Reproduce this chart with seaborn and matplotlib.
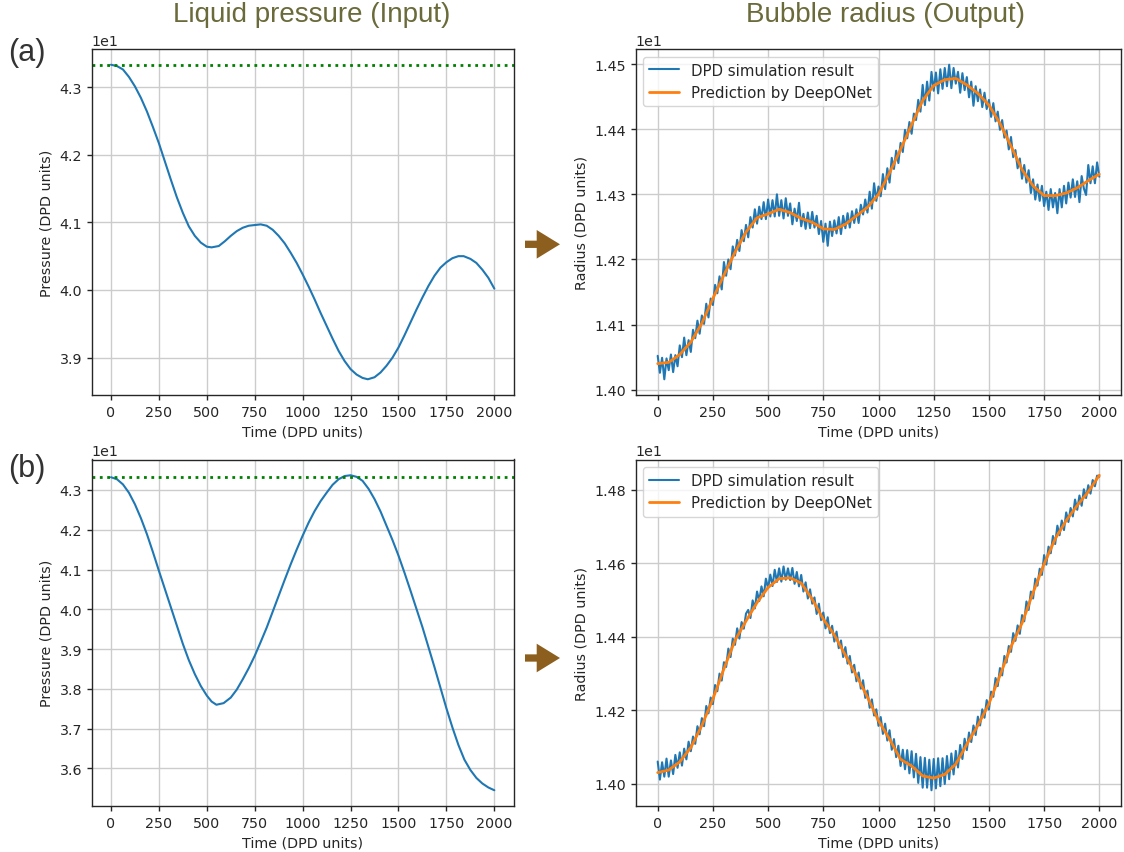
import matplotlib
matplotlib.use("Agg")
import matplotlib.pyplot as plt
from matplotlib.patches import FancyArrow
import seaborn as sns

# ---------------- data ----------------
# (a) liquid pressure input
t_press_a = [0, 31.25, 62.5, 93.75, 125, 156.25, 187.5, 218.75, 250, 281.25, 312.5, 343.75, 375,
             406.25, 437.5, 468.75, 500, 525, 562.5, 593.75, 625, 656.25, 687.5, 718.75, 750, 781,
             812.5, 843.75, 875, 906.25, 937.5, 968.75, 1000, 1031.25, 1062.5, 1093.75, 1125,
             1156.25, 1187.5, 1218.75, 1250, 1281.25, 1312.5, 1340, 1375, 1406.25, 1437.5,
             1468.75, 1500, 1531.25, 1562.5, 1593.75, 1625, 1656.25, 1687.5, 1718.75, 1750,
             1781.25, 1812.5, 1840, 1875, 1906.25, 1937.5, 1968.75, 2000]
press_a = [43.33, 43.31, 43.26, 43.15, 43.01, 42.84, 42.64, 42.41, 42.17, 41.90, 41.63, 41.37, 41.14,
           40.94, 40.80, 40.70, 40.64, 40.63, 40.65, 40.72, 40.80, 40.87, 40.92, 40.95, 40.96, 40.97,
           40.95, 40.89, 40.80, 40.69, 40.55, 40.40, 40.23, 40.05, 39.86, 39.66, 39.47, 39.28,
           39.10, 38.95, 38.83, 38.75, 38.70, 38.68, 38.71, 38.78, 38.88, 39.00, 39.15, 39.33,
           39.52, 39.71, 39.89, 40.06, 40.21, 40.33, 40.41, 40.47, 40.50, 40.50, 40.46, 40.40,
           40.30, 40.18, 40.02]

# (b) liquid pressure input
t_press_b = [0, 31.25, 62.5, 93.75, 125, 156.25, 187.5, 218.75, 250, 281.25, 312.5, 343.75, 375,
             406.25, 437.5, 468.75, 500, 525, 550, 587.5, 625, 656.25, 687.5, 718.75, 750, 781.25,
             812.5, 843.75, 875, 906.25, 937.5, 968.75, 1000, 1031.25, 1062.5, 1093.75, 1125,
             1156.25, 1187.5, 1218.75, 1250, 1281.25, 1312.5, 1343.75, 1375, 1406.25, 1437.5,
             1468.75, 1500, 1531.25, 1562.5, 1593.75, 1625, 1656.25, 1687.5, 1718.75, 1750,
             1781.25, 1812.5, 1843.75, 1875, 1906.25, 1937.5, 1968.75, 2000]
press_b = [43.32, 43.27, 43.14, 42.93, 42.64, 42.29, 41.89, 41.44, 40.97, 40.51, 40.05, 39.59, 39.13,
           38.72, 38.37, 38.07, 37.83, 37.68, 37.60, 37.64, 37.78, 37.98, 38.24, 38.52, 38.83, 39.18,
           39.54, 39.94, 40.34, 40.74, 41.13, 41.50, 41.85, 42.18, 42.47, 42.72, 42.93, 43.13,
           43.27, 43.35, 43.37, 43.33, 43.23, 43.03, 42.77, 42.46, 42.10, 41.74, 41.35, 40.92,
           40.47, 40.01, 39.55, 39.05, 38.55, 38.03, 37.51, 37.03, 36.59, 36.22, 35.96, 35.76,
           35.62, 35.52, 35.45]

# DPD simulation time grid (every 10 DPD time units)
t_dpd = list(range(0, 2001, 10))

radius_dpd_a = [
    14.052, 14.026, 14.049, 14.016, 14.048, 14.030, 14.054, 14.027, 14.053, 14.036,
    14.068, 14.050, 14.080, 14.053, 14.076, 14.058, 14.092, 14.079, 14.106, 14.086,
    14.114, 14.101, 14.132, 14.111, 14.140, 14.130, 14.161, 14.148, 14.174, 14.154,
    14.196, 14.175, 14.200, 14.185, 14.220, 14.206, 14.230, 14.213, 14.245, 14.228,
    14.253, 14.234, 14.265, 14.249, 14.277, 14.255, 14.281, 14.262, 14.288, 14.262,
    14.292, 14.266, 14.291, 14.266, 14.300, 14.267, 14.291, 14.263, 14.294, 14.267,
    14.286, 14.254, 14.278, 14.259, 14.287, 14.251, 14.270, 14.247, 14.272, 14.248,
    14.273, 14.249, 14.267, 14.239, 14.259, 14.227, 14.255, 14.221, 14.258, 14.236,
    14.260, 14.240, 14.265, 14.239, 14.267, 14.248, 14.271, 14.249, 14.274, 14.256,
    14.277, 14.256, 14.284, 14.269, 14.292, 14.272, 14.304, 14.278, 14.317, 14.290,
    14.312, 14.297, 14.331, 14.308, 14.340, 14.318, 14.356, 14.339, 14.367, 14.348,
    14.379, 14.365, 14.399, 14.386, 14.411, 14.393, 14.424, 14.414, 14.445, 14.427,
    14.468, 14.437, 14.473, 14.444, 14.488, 14.459, 14.487, 14.455, 14.492, 14.462,
    14.494, 14.466, 14.499, 14.463, 14.494, 14.470, 14.488, 14.456, 14.486, 14.460,
    14.480, 14.449, 14.473, 14.436, 14.466, 14.443, 14.461, 14.434, 14.456, 14.431,
    14.445, 14.419, 14.440, 14.412, 14.427, 14.399, 14.414, 14.387, 14.398, 14.369,
    14.388, 14.357, 14.368, 14.340, 14.355, 14.324, 14.345, 14.318, 14.337, 14.302,
    14.323, 14.292, 14.315, 14.290, 14.313, 14.282, 14.304, 14.276, 14.308, 14.280,
    14.302, 14.271, 14.308, 14.280, 14.313, 14.286, 14.318, 14.295, 14.323, 14.296,
    14.320, 14.288, 14.328, 14.309, 14.299, 14.345, 14.317, 14.343, 14.317, 14.349,
    14.327]

radius_dpd_b = [
    14.061, 14.012, 14.059, 14.020, 14.069, 14.020, 14.064, 14.027, 14.079, 14.044,
    14.086, 14.050, 14.096, 14.067, 14.115, 14.089, 14.129, 14.109, 14.157, 14.135,
    14.179, 14.157, 14.212, 14.192, 14.235, 14.217, 14.269, 14.252, 14.300, 14.281,
    14.331, 14.318, 14.368, 14.345, 14.395, 14.378, 14.423, 14.395, 14.440, 14.422,
    14.463, 14.473, 14.451, 14.499, 14.477, 14.523, 14.497, 14.537, 14.510, 14.558,
    14.532, 14.569, 14.538, 14.582, 14.549, 14.586, 14.550, 14.591, 14.555, 14.586,
    14.554, 14.587, 14.544, 14.576, 14.537, 14.568, 14.523, 14.548, 14.504, 14.529,
    14.490, 14.507, 14.462, 14.490, 14.445, 14.466, 14.423, 14.453, 14.410, 14.430,
    14.387, 14.414, 14.369, 14.390, 14.345, 14.372, 14.327, 14.348, 14.303, 14.324,
    14.279, 14.303, 14.259, 14.282, 14.234, 14.254, 14.207, 14.230, 14.186, 14.203,
    14.158, 14.182, 14.136, 14.164, 14.118, 14.146, 14.093, 14.122, 14.073, 14.104,
    14.049, 14.093, 14.040, 14.092, 14.029, 14.089, 14.018, 14.082, 14.003, 14.073,
    13.990, 14.071, 13.990, 14.066, 13.983, 14.068, 13.988, 14.070, 13.994, 14.070,
    14.000, 14.076, 14.013, 14.083, 14.026, 14.090, 14.045, 14.106, 14.068, 14.123,
    14.092, 14.140, 14.114, 14.159, 14.133, 14.183, 14.159, 14.203, 14.180, 14.228,
    14.202, 14.251, 14.237, 14.288, 14.266, 14.315, 14.295, 14.348, 14.330, 14.375,
    14.359, 14.410, 14.389, 14.431, 14.408, 14.459, 14.442, 14.496, 14.473, 14.523,
    14.504, 14.558, 14.539, 14.585, 14.568, 14.622, 14.596, 14.645, 14.627, 14.674,
    14.652, 14.702, 14.676, 14.716, 14.690, 14.738, 14.712, 14.750, 14.727, 14.773,
    14.745, 14.784, 14.756, 14.801, 14.777, 14.812, 14.789, 14.826, 14.809, 14.838,
    14.835]

# DeepONet prediction (every 50 DPD time units)
t_pred = list(range(0, 2001, 50))
radius_pred_a = [14.040, 14.042, 14.054, 14.073, 14.102, 14.140, 14.176, 14.211, 14.242, 14.264,
                 14.270, 14.277, 14.272, 14.263, 14.257, 14.247, 14.246, 14.254, 14.267, 14.280,
                 14.300, 14.333, 14.369, 14.407, 14.444, 14.467, 14.476, 14.478, 14.468, 14.455,
                 14.437, 14.409, 14.374, 14.338, 14.313, 14.298, 14.298, 14.302, 14.310, 14.321,
                 14.331]
radius_pred_b = [14.031, 14.038, 14.060, 14.099, 14.159, 14.231, 14.313, 14.390, 14.443, 14.493,
                 14.534, 14.558, 14.560, 14.546, 14.502, 14.448, 14.405, 14.350, 14.295, 14.236,
                 14.172, 14.122, 14.067, 14.049, 14.022, 14.016, 14.026, 14.054, 14.108, 14.159,
                 14.218, 14.295, 14.373, 14.437, 14.520, 14.598, 14.666, 14.716, 14.757, 14.794,
                 14.839]

col_titles = ["Liquid pressure (Input)", "Bubble radius (Output)"]
row_labels = ["(a)", "(b)"]
legend_labels = ["DPD simulation result", "Prediction by DeepONet"]

# ---------------- style ----------------
sns.set_theme(style="ticks", rc={
    "axes.grid": True,
    "grid.color": ".8",
    "grid.linewidth": 1.0,
    "axes.edgecolor": ".15",
    "axes.linewidth": 1.0,
    "xtick.major.size": 3.5,
    "ytick.major.size": 3.5,
    "xtick.major.width": 1.0,
    "ytick.major.width": 1.0,
    "font.size": 10.3,
    "axes.labelsize": 10.3,
    "xtick.labelsize": 10.3,
    "ytick.labelsize": 10.3,
    "legend.fontsize": 10.8,
})
plt.rcParams["font.family"] = ["DejaVu Sans"]

W, H = 1124, 853
fig = plt.figure(figsize=(W / 100, H / 100), dpi=100)


def frac_box(left, top, right, bottom):
    return [left / W, 1 - bottom / H, (right - left) / W, (bottom - top) / H]


ax_pa = fig.add_axes(frac_box(91.8, 50, 513.5, 396))
ax_ra = fig.add_axes(frac_box(635.6, 50, 1121.4, 396))
ax_pb = fig.add_axes(frac_box(91.8, 460.5, 513.5, 807))
ax_rb = fig.add_axes(frac_box(635.6, 460.5, 1121.4, 807))

blue = "#1f77b4"
orange = "#ff7f0e"


def pressure_panel(ax, t, p):
    sns.lineplot(x=t, y=p, ax=ax, color=blue, linewidth=1.5, errorbar=None)
    ax.axhline(p[0], color="green", linestyle=":", linewidth=2)
    ax.set_xlabel("Time (DPD units)")
    ax.set_ylabel("Pressure (DPD units)")
    ax.ticklabel_format(axis="y", style="sci", scilimits=(0, 0))
    ax.set_xticks(range(0, 2001, 250))
    ax.grid(True)


def radius_panel(ax, t, r, tp, rp):
    sns.lineplot(x=t, y=r, ax=ax, color=blue, linewidth=1.5, errorbar=None,
                 label=legend_labels[0])
    sns.lineplot(x=tp, y=rp, ax=ax, color=orange, linewidth=2, errorbar=None,
                 label=legend_labels[1])
    ax.set_xlabel("Time (DPD units)")
    ax.set_ylabel("Radius (DPD units)")
    ax.ticklabel_format(axis="y", style="sci", scilimits=(0, 0))
    ax.set_xticks(range(0, 2001, 250))
    ax.grid(True)
    ax.legend(loc="upper left", frameon=True)


pressure_panel(ax_pa, t_press_a, press_a)
pressure_panel(ax_pb, t_press_b, press_b)
radius_panel(ax_ra, t_dpd, radius_dpd_a, t_pred, radius_pred_a)
radius_panel(ax_rb, t_dpd, radius_dpd_b, t_pred, radius_pred_b)

for ax in (ax_pa, ax_ra, ax_pb, ax_rb):
    ax.set_xlim(-100, 2100)

# column titles
title_color = "#6a6a3a"
fig.text(312 / W, 1 - 22.5 / H, col_titles[0], ha="center", va="baseline",
         fontsize=20, color=title_color, family=["Liberation Sans", "DejaVu Sans"])
fig.text(885 / W, 1 - 22.5 / H, col_titles[1], ha="center", va="baseline",
         fontsize=20, color=title_color, family=["Liberation Sans", "DejaVu Sans"])

# row labels
fig.text(26.5 / W, 1 - 53.5 / H, row_labels[0], ha="center", va="center",
         fontsize=22, color="#333333", family=["Liberation Sans", "DejaVu Sans"])
fig.text(26.5 / W, 1 - 469 / H, row_labels[1], ha="center", va="center",
         fontsize=22, color="#333333", family=["Liberation Sans", "DejaVu Sans"])

# arrows between input and output
arrow_color = "#8c5f1e"
for yc in (245.3, 659):
    fig.add_artist(FancyArrow(525 / W, 1 - yc / H, 35 / W, 0,
                              width=7.3 / H, head_width=28.6 / H, head_length=23.3 / W,
                              length_includes_head=True, transform=fig.transFigure,
                              color=arrow_color, linewidth=0))

fig.savefig("out.png", dpi=100)
